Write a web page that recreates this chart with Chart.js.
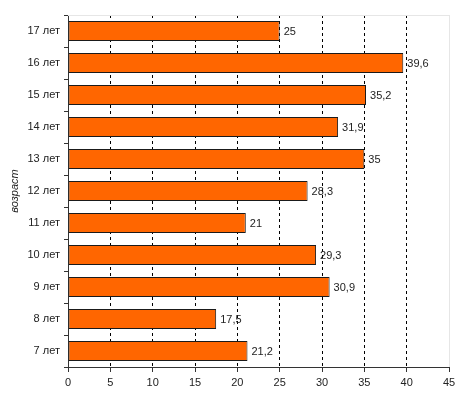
<!DOCTYPE html>
<html>
<head>
<meta charset="utf-8">
<script src="https://cdn.jsdelivr.net/npm/chart.js@4.4.0/dist/chart.umd.min.js"></script>
<style>
	html, body { margin: 0; padding: 0; background: #fff; }
	#wrap { width: 472px; height: 399px; position: relative; }
</style>
</head>
<body>
<div id="wrap"><canvas id="ageChart"></canvas></div>
<script>
const ages = ["17 лет", "16 лет", "15 лет", "14 лет", "13 лет", "12 лет", "11 лет", "10 лет", "9 лет", "8 лет", "7 лет"];
const values = [25, 39.6, 35.2, 31.9, 35, 28.3, 21, 29.3, 30.9, 17.5, 21.2];
const axisTitle = "возраст";

const FONT = "Arial, 'Liberation Sans', sans-serif";
const INK = "#222";

// value labels to the right of each bar, comma as decimal mark
const valueLabels = {
	id: "valueLabels",
	afterDatasetsDraw(chart) {
		const c = chart.ctx;
		const meta = chart.getDatasetMeta(0);
		c.save();
		c.font = "normal 11px " + FONT;
		c.fillStyle = INK;
		c.textAlign = "left";
		c.textBaseline = "middle";
		meta.data.forEach((bar, i) => {
			const txt = String(values[i]).replace(".", ",");
			c.fillText(txt, bar.x + 4, bar.y + 1);
		});
		c.restore();
	}
};

// light frame on top and right of the plot area
const plotFrame = {
	id: "plotFrame",
	beforeDatasetsDraw(chart) {
		const a = chart.chartArea;
		const c = chart.ctx;
		c.save();
		c.strokeStyle = "#e6e6e6";
		c.lineWidth = 1;
		c.beginPath();
		c.moveTo(a.left, a.top + 0.5);
		c.lineTo(a.right + 0.5, a.top + 0.5);
		c.lineTo(a.right + 0.5, a.bottom);
		c.stroke();
		c.restore();
	}
};

new Chart(document.getElementById("ageChart"), {
	type: "bar",
	data: {
		labels: ages,
		datasets: [{
			data: values,
			backgroundColor: "#ff6600",
			borderColor: "#1a1a1a",
			borderWidth: 1,
			borderSkipped: false,
			categoryPercentage: 1,
			barPercentage: 0.625
		}]
	},
	options: {
		indexAxis: "y",
		responsive: true,
		maintainAspectRatio: false,
		animation: false,
		layout: { padding: { top: 15, right: 23, left: 0, bottom: 0 } },
		plugins: {
			legend: { display: false },
			tooltip: { enabled: false }
		},
		scales: {
			x: {
				min: 0,
				max: 45,
				ticks: { stepSize: 5, color: INK, font: { family: FONT, size: 11, style: "normal" }, padding: 4 },
				grid: {
					color: c => c.tick && c.tick.value === 0 ? "rgba(0,0,0,0)" : (c.tick && c.tick.value === 45 ? "#e6e6e6" : "#000"),
					tickColor: "#333",
					tickLength: 5
				},
				border: {
					color: "#333",
					dash: c => c.tick && c.tick.value === 45 ? [] : [3, 3]
				},
				afterFit(scale) { scale.height = 32; }
			},
			y: {
				ticks: { color: INK, font: { family: FONT, size: 11, style: "normal" }, padding: 4 },
				grid: {
					drawOnChartArea: false,
					tickColor: "#333",
					tickLength: 4,
					offset: true
				},
				border: { color: "#333" },
				title: {
					display: true,
					text: axisTitle,
					color: INK,
					font: { family: FONT, size: 11, style: "italic" },
					padding: { top: 8, bottom: 0 }
				},
				afterFit(scale) { scale.width = 68; }
			}
		}
	},
	plugins: [valueLabels, plotFrame]
});
</script>
</body>
</html>
